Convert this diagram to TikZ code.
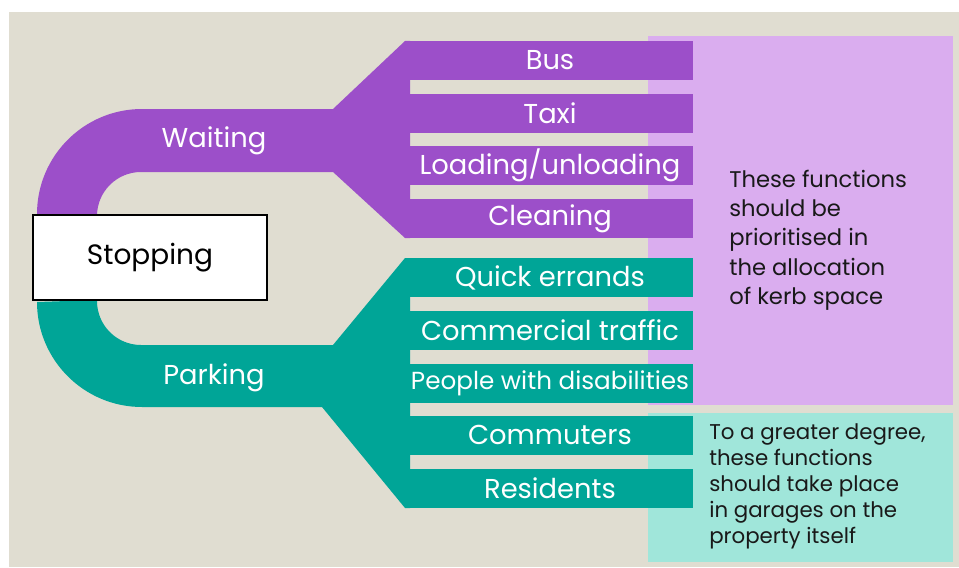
\documentclass[tikz,border=0pt]{standalone}
\usepackage{fontspec}
\setmainfont{Poppins}
\definecolor{bgbeige}{HTML}{E0DDD1}
\definecolor{waitpurple}{HTML}{9C4FC9}
\definecolor{waitlight}{HTML}{DAADEF}
\definecolor{parkteal}{HTML}{00A597}
\definecolor{parklight}{HTML}{A0E6DA}
\begin{document}
\begin{tikzpicture}[x=0.75pt,y=-0.75pt,
    bar/.style={minimum width=214.5pt,minimum height=29.25pt,inner sep=0pt,
        text=white},
    stem/.style={text=white,font=\fontsize{20.5}{24}\selectfont},
    note/.style={anchor=west,align=left,inner sep=0pt,text=black!90}]
    \useasboundingbox (0,0) rectangle (959,567);
    \fill[white] (0,0) rectangle (959,567);
    \fill[bgbeige] (9,12) rectangle (959,567);

    % the two groups of functions
    \fill[waitlight] (648,36) rectangle (953,405);
    \fill[parklight] (648,413) rectangle (953,562);

    % waiting branch
    \fill[waitpurple] (37,216) -- (37,214)
        arc[start angle=180,end angle=90,radius=78.75pt]
        -- (333,109) -- (405,41) -- (410,41) -- (410,238) -- (405,238)
        -- (333,172) -- (141,172)
        arc[start angle=90,end angle=180,radius=33pt] -- cycle;
    % parking branch
    \fill[parkteal] (97,300) -- (97,301)
        arc[start angle=180,end angle=270,radius=33pt]
        -- (333,345) -- (405,258) -- (410,258) -- (410,508) -- (405,508)
        -- (322,407) -- (142,407)
        arc[start angle=270,end angle=180,radius=78.75pt] -- cycle;

    \foreach \y/\name/\fs/\lab in {60.5/bus/20.5/Bus,113.5/taxi/20.5/Taxi,
        165.5/loading/20.5/Loading\slash unloading,218.5/cleaning/20.5/Cleaning}{
        \node[bar,fill=waitpurple,font=\fontsize{\fs}{24}\selectfont]
            (\name) at (550,\y) {\lab};
    }
    \foreach \y/\name/\fs/\lab in {277.5/errands/20.5/Quick errands,
        330/commercial/20.5/Commercial traffic,
        383/disabled/18.5/People with disabilities,
        435/commuters/20.5/Commuters,488.5/residents/20.5/Residents}{
        \node[bar,fill=parkteal,font=\fontsize{\fs}{24}\selectfont]
            (\name) at (550,\y) {\lab};
    }

    \node[stem] (waiting) at (214,141) {Waiting};
    \node[stem] (parking) at (214,378) {Parking};

    \node[draw,line width=1.5pt,fill=white,minimum width=175.5pt,
        minimum height=63.75pt,font=\fontsize{21}{24}\selectfont]
        (stopping) at (150,257.5) {Stopping};

    \node[note,font=\fontsize{17}{22}\selectfont] (priority) at (729,240)
        {These functions\\should be\\prioritised in\\the allocation\\of kerb space};
    \node[note,font=\fontsize{16}{19.5}\selectfont] (garages) at (709,486)
        {To a greater degree,\\these functions\\should take place\\in garages on the\\property itself};
\end{tikzpicture}
\end{document}
